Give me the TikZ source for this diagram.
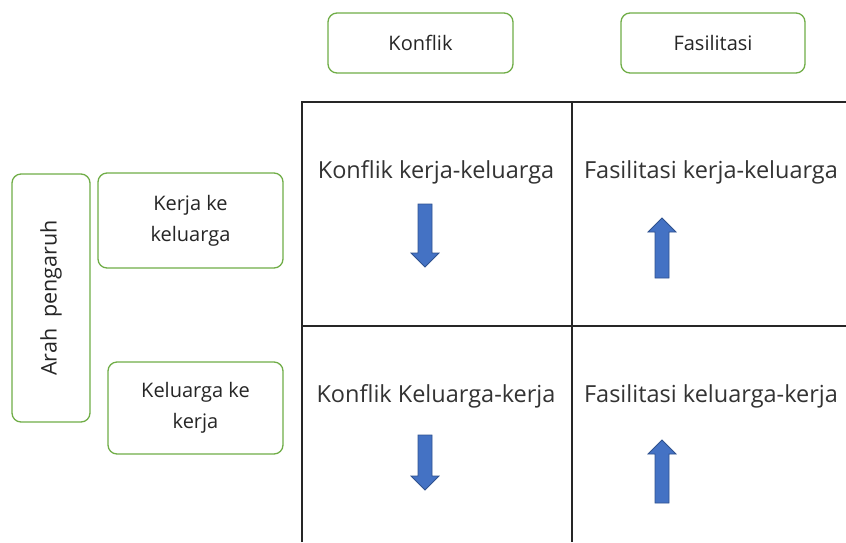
\documentclass[tikz,border=0pt]{standalone}
\usepackage{fontspec}
\setmainfont{Open Sans}
\definecolor{boxgreen}{HTML}{70AD47}
\definecolor{arrfill}{HTML}{4472C4}
\definecolor{arrline}{HTML}{2F528F}
\definecolor{gridline}{HTML}{262626}
\begin{document}
\begin{tikzpicture}[x=1pt,y=-1pt,
  gbox/.style={draw=boxgreen,line width=1.3pt,rounded corners=9pt,fill=white,align=center,text=black!85,font=\fontsize{20}{31}\selectfont,inner sep=0pt},
  celltext/.style={font=\fontsize{23.5}{28}\selectfont,text=black!80,inner sep=0pt},
  blockarrow/.style={fill=arrfill,draw=arrline,line width=0.8pt,line join=miter},
  grid/.style={draw=gridline,line width=1.3pt}]
\useasboundingbox (0,0) rectangle (846,542);
% header boxes
\node[gbox,minimum width=185,minimum height=60] (konflik) at (420.5,43) {Konflik};
\node[gbox,minimum width=184,minimum height=60] (fasil) at (713,43) {Fasilitasi};
% side boxes
\node[gbox,minimum width=78,minimum height=248] (arah) at (51,298) {};
\node[rotate=90,font=\fontsize{21.5}{26}\selectfont,text=black!85] (arahtxt) at (arah.center) {Arah\ \ pengaruh};
\node[gbox,minimum width=185,minimum height=95] (kk) at (190.5,220.5) {Kerja ke\\keluarga};
\node[gbox,minimum width=175,minimum height=92] (kkr) at (195.5,408) {Keluarga ke\\kerja};
% grid
\coordinate (tl) at (302,102);
\coordinate (tr) at (846,102);
\coordinate (ml) at (302,326);
\coordinate (mr) at (846,326);
\coordinate (bl) at (302,542);
\coordinate (vt) at (572,102);
\coordinate (vb) at (572,542);
\draw[grid] (bl) -- (tl) -- (tr);
\draw[grid] (ml) -- (mr);
\draw[grid] (vt) -- (vb);
% cell texts
\node[celltext] (c11) at (436,172) {Konflik kerja-keluarga};
\node[celltext] (c12) at (711,172) {Fasilitasi kerja-keluarga};
\node[celltext] (c21) at (436,396) {Konflik Keluarga-kerja};
\node[celltext] (c22) at (711,396) {Fasilitasi keluarga-kerja};
% arrows
\draw[blockarrow] (418,204) -- (432,204) -- (432,253) -- (439,253) -- (425,267) -- (411,253) -- (418,253) -- cycle;
\draw[blockarrow] (655,278) -- (669,278) -- (669,232) -- (676,232) -- (662,218) -- (648,232) -- (655,232) -- cycle;
\draw[blockarrow] (418,435) -- (432,435) -- (432,476) -- (439,476) -- (425,490) -- (411,476) -- (418,476) -- cycle;
\draw[blockarrow] (655,503) -- (669,503) -- (669,454) -- (676,454) -- (662,440) -- (648,454) -- (655,454) -- cycle;
\end{tikzpicture}
\end{document}
